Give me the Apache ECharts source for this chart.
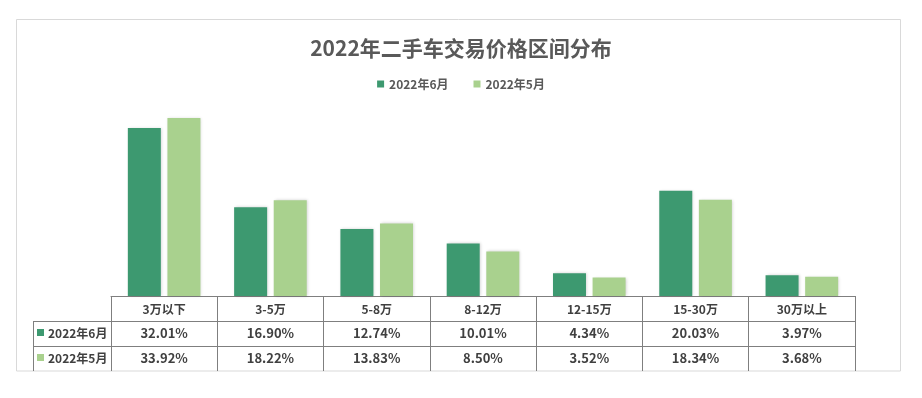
<!DOCTYPE html>
<html><head><meta charset="utf-8">
<script src="https://cdn.jsdelivr.net/npm/echarts@6/dist/echarts.min.js"></script>
<style>html,body{margin:0;padding:0;background:#fff}#c{width:922px;height:398px}</style>
</head><body><div id="c"></div>
<script>
const titleText = '2022年二手车交易价格区间分布';
const categories = ['3万以下','3-5万','5-8万','8-12万','12-15万','15-30万','30万以上'];
const seriesNames = ['2022年6月','2022年5月'];
const june = [32.01,16.90,12.74,10.01,4.34,20.03,3.97];
const may = [33.92,18.22,13.83,8.50,3.52,18.34,3.68];
const colors = ['#3d9970','#a9d18e'];

const GRID_L = 111, GRID_R = 855, AXIS_Y = 296, ROW_H = 25, LABEL_L = 33, PLOT_TOP = 86;
const FONT = '"Noto Sans CJK SC", "Noto Sans", sans-serif';
const TEXT = '#404040', LINE = '#7f7f7f';
const fmt = v => v.toFixed(2) + '%';
const valueRows = [june, may];

const chart = echarts.init(document.getElementById('c'), null, {renderer:'canvas'});

const xAxes = [{
  type:'category', data:categories, gridIndex:0, position:'bottom', offset:0,
  axisLine:{show:true, lineStyle:{color:LINE, width:1}},
  axisTick:{show:true, length:ROW_H*3, lineStyle:{color:LINE}},
  axisLabel:{margin:7, fontFamily:FONT, fontSize:12, fontWeight:'bold', color:TEXT}
}];
valueRows.forEach((row, i) => {
  xAxes.push({
    type:'category', data:categories, gridIndex:0, position:'bottom', offset:ROW_H*(i+1),
    axisLine:{show:true, lineStyle:{color:LINE, width:1}},
    axisTick:{show:false},
    axisLabel:{margin:6, fontFamily:FONT, fontSize:13, fontWeight:'bold', color:TEXT,
      formatter:(v, idx) => fmt(row[idx])}
  });
});

const graphics = [
  {type:'rect', z:-10, shape:{x:16.5, y:19.5, width:884, height:351.5},
   style:{fill:'none', stroke:'#d9d9d9', lineWidth:1}},
  {type:'line', shape:{x1:LABEL_L+0.5, y1:AXIS_Y+ROW_H, x2:LABEL_L+0.5, y2:AXIS_Y+ROW_H*3}, style:{stroke:LINE, lineWidth:1}}
];
seriesNames.forEach((name, i) => {
  const yTop = AXIS_Y + ROW_H*(i+1);
  graphics.push({type:'line', shape:{x1:LABEL_L, y1:yTop+0.5, x2:GRID_L, y2:yTop+0.5}, style:{stroke:LINE, lineWidth:1}});
  graphics.push({type:'rect', shape:{x:37, y:yTop+ROW_H/2-4.5, width:7, height:7}, style:{fill:colors[i]}});
  graphics.push({type:'text', x:48, y:yTop+ROW_H/2, style:{text:name, fill:TEXT, font:'bold 12px '+FONT, textVerticalAlign:'middle', verticalAlign:'middle'}});
});

chart.setOption({
  animation:false,
  backgroundColor:'#ffffff',
  title:{text:titleText, left:'center', top:33,
    textStyle:{fontFamily:FONT, fontSize:21, fontWeight:'bold', color:'#595959'}},
  legend:{data:seriesNames, top:73, left:'center', icon:'rect', itemWidth:7, itemHeight:7, itemGap:25,
    textStyle:{fontFamily:FONT, fontSize:12, fontWeight:'bold', color:'#595959'}},
  grid:{left:GRID_L, right:922-GRID_R, top:PLOT_TOP, bottom:398-AXIS_Y, containLabel:false, outerBoundsMode:'none'},
  xAxis:xAxes,
  yAxis:{type:'value', min:0, max:40, show:false, splitLine:{show:false}},
  graphic:graphics,
  series:[
    {name:seriesNames[0], type:'bar', data:june, xAxisIndex:0, barWidth:33, barGap:'20%',
     itemStyle:{color:colors[0], shadowBlur:3, shadowColor:'rgba(0,0,0,0.18)', shadowOffsetX:1}},
    {name:seriesNames[1], type:'bar', data:may, xAxisIndex:0, barWidth:33, barGap:'20%',
     itemStyle:{color:colors[1], shadowBlur:3, shadowColor:'rgba(0,0,0,0.18)', shadowOffsetX:1}}
  ]
});
</script></body></html>
